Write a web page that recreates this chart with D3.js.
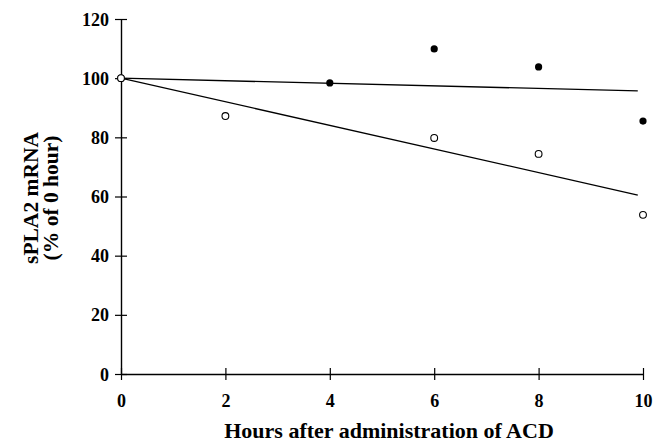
<!DOCTYPE html>
<html>
<head>
<meta charset="utf-8">
<script src="https://cdn.jsdelivr.net/npm/d3@7"></script>
<style>
	body { margin: 0; background: #fff; }
	text { font-family: "Liberation Serif", "Times New Roman", serif; font-weight: bold; fill: #000; }
</style>
</head>
<body>
<div id="chart"></div>
<script>

// data
var hours = [0, 2, 4, 6, 8, 10]
var openHours = [0, 2, 6, 8, 10]
var openValues = [100, 87.2, 79.8, 74.4, 53.8]
var filledHours = [0, 4, 6, 8, 10]
var filledValues = [100, 98.4, 109.9, 103.8, 85.5]
// fitted lines, start and end point
var openFit = [[0, 100], [9.9, 60.5]]
var filledFit = [[0, 100], [9.9, 95.7]]
var yTicks = [0, 20, 40, 60, 80, 100, 120]

var width = 654
var height = 445

var x = d3.scaleLinear()
	.domain([0, 10])
	.range([121, 643])

var y = d3.scaleLinear()
	.domain([0, 120])
	.range([374, 19])

var svg = d3.select("#chart").append("svg")
	.attr("width", width)
	.attr("height", height)

// y axis
var yAxis = svg.append("g")
	.attr("transform", "translate(" + x(0) + ",0)")
	.call(d3.axisLeft(y).tickValues(yTicks).tickSize(6).tickSizeOuter(0))

yAxis.select(".domain").attr("stroke", "#000").attr("stroke-width", 1.4)
yAxis.selectAll(".tick line").attr("x1", 6).attr("x2", -6).attr("stroke-width", 1.2)
yAxis.selectAll(".tick text")
	.attr("x", -12)
	.attr("dy", "0.34em")
	.style("font-size", "18px")

// x axis
var xAxis = svg.append("g")
	.attr("transform", "translate(0," + y(0) + ")")
	.call(d3.axisBottom(x).tickValues(hours).tickSize(6).tickSizeOuter(0))

xAxis.select(".domain").attr("stroke", "#000").attr("stroke-width", 1.4)
xAxis.selectAll(".tick line").attr("y1", -6).attr("y2", 6).attr("stroke-width", 1.2)
xAxis.selectAll(".tick text")
	.attr("y", 33)
	.attr("dy", 0)
	.style("font-size", "18px")

// axis titles
svg.append("text")
	.attr("x", 389)
	.attr("y", 438)
	.attr("text-anchor", "middle")
	.style("font-size", "22px")
	.text("Hours after administration of ACD")

var yTitle = svg.append("text")
	.attr("transform", "translate(0,198) rotate(-90)")
	.attr("text-anchor", "middle")
	.style("font-size", "21.5px")

yTitle.append("tspan").attr("x", 0).attr("y", 38).text("sPLA2 mRNA")
yTitle.append("tspan").attr("x", 0).attr("y", 58).text("(% of 0 hour)")

// regression lines
var line = d3.line()
	.x(d => x(d[0]))
	.y(d => y(d[1]))

svg.append("path")
	.datum(filledFit)
	.attr("d", line)
	.attr("fill", "none")
	.attr("stroke", "#000")
	.attr("stroke-width", 1.3)

svg.append("path")
	.datum(openFit)
	.attr("d", line)
	.attr("fill", "none")
	.attr("stroke", "#000")
	.attr("stroke-width", 1.3)

// points
svg.selectAll(".filled")
	.data(filledHours)
	.enter()
	.append("circle")
	.attr("class", "filled")
	.attr("cx", d => x(d))
	.attr("cy", (d, i) => y(filledValues[i]))
	.attr("r", 3.6)
	.attr("fill", "#000")

svg.selectAll(".open")
	.data(openHours)
	.enter()
	.append("circle")
	.attr("class", "open")
	.attr("cx", d => x(d))
	.attr("cy", (d, i) => y(openValues[i]))
	.attr("r", 3.4)
	.attr("fill", "#fff")
	.attr("stroke", "#000")
	.attr("stroke-width", 1.1)

</script>
</body>
</html>
